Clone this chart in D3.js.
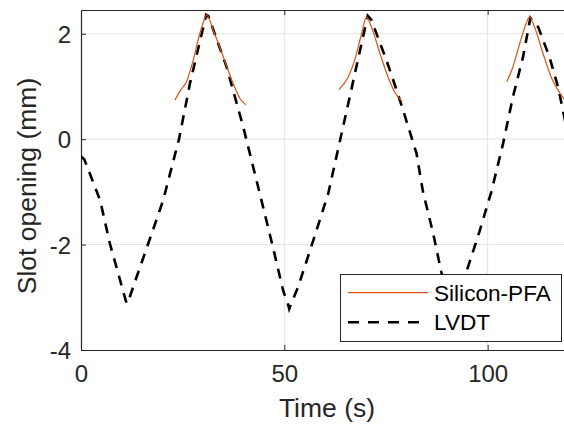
<!DOCTYPE html>
<html>
<head>
<meta charset="utf-8">
<script src="https://cdn.jsdelivr.net/npm/d3@7"></script>
<style>
  body { margin: 0; background: #fff; }
  svg { display: block; font-family: "Liberation Sans", Arial, sans-serif; }
</style>
</head>
<body id="body">
<script>
// LVDT reading (s, mm)
var lvdtTime = [0, 0.8, 4.7, 7.1, 11.0, 11.3, 11.6, 14.5, 17.4, 20.2, 24.1, 26.8, 30.8,
    31.3, 35.8, 39.9, 44.5, 47.2, 49.7, 51.0, 51.2, 51.5, 53.4, 57.0, 60.8, 65.5, 70.5,
    71.4, 75.1, 77.6, 79.2, 82.5, 84.1, 86.6, 88.6, 91.1, 91.4, 91.7, 94.6, 98.0, 100.9,
    103.8, 106.2, 108.7, 110.5, 112.4, 115.2, 117.3, 118.5, 120.5];
var lvdtValue = [-0.33, -0.38, -1.16, -1.98, -3.06, -3.12, -3.08, -2.43, -1.79, -1.16, 0.0, 1.06, 2.36,
    2.34, 1.37, 0.23, -1.2, -2.05, -2.87, -3.16, -3.22, -3.16, -2.8, -1.95, -1.03, 0.6, 2.34,
    2.26, 1.5, 0.93, 0.55, -0.27, -1.0, -1.79, -2.52, -3.25, -3.3, -3.25, -2.56, -1.75, -1.0,
    -0.08, 0.8, 1.56, 2.3, 2.13, 1.56, 0.99, 0.55, -0.2];

// Silicon-PFA sensor, three separate recordings
var pfaTime = [
    [23.1, 24.4, 26.0, 27.6, 29.2, 30.0, 30.9, 32.5, 35.0, 37.4, 39.1, 40.5],
    [63.4, 65.7, 67.3, 69.0, 70.2, 71.4, 73.5, 75.5, 77.1, 78.9],
    [104.7, 106.2, 107.9, 109.5, 110.3, 111.5, 113.6, 115.6, 117.3, 118.7, 120.5]
];
var pfaValue = [
    [0.74, 0.92, 1.1, 1.5, 2.0, 2.2, 2.36, 2.07, 1.56, 1.06, 0.77, 0.65],
    [0.94, 1.18, 1.5, 2.0, 2.32, 2.13, 1.63, 1.18, 0.9, 0.72],
    [1.09, 1.37, 1.82, 2.2, 2.32, 2.13, 1.63, 1.18, 0.93, 0.77, 0.62]
];

var xTicks = [0, 50, 100];
var yTicks = [-4, -2, 0, 2];
var legendLabels = ["Silicon-PFA", "LVDT"];

var width = 564, height = 430;
var pLeft = 81, pRight = 569, pTop = 10, pBottom = 350;

var x = d3.scaleLinear().domain([0, 120]).range([pLeft, pRight]);
var y = d3.scaleLinear().domain([-4, 2.45]).range([pBottom, pTop]);

var svg = d3.select("body").append("svg")
    .attr("width", width)
    .attr("height", height);

svg.append("defs").append("clipPath").attr("id", "plotclip")
    .append("rect")
    .attr("x", pLeft).attr("y", pTop)
    .attr("width", pRight - pLeft).attr("height", pBottom - pTop);

// grid
var grid = svg.append("g").attr("stroke", "#e3e3e3").attr("stroke-width", 1);
grid.selectAll(".gx").data(xTicks.slice(1)).enter().append("line")
    .attr("x1", d => x(d)).attr("x2", d => x(d))
    .attr("y1", pTop).attr("y2", pBottom);
grid.selectAll(".gy").data(yTicks.slice(1)).enter().append("line")
    .attr("x1", pLeft).attr("x2", pRight)
    .attr("y1", d => y(d)).attr("y2", d => y(d));

// axes (MATLAB style, ticks pointing in)
var axisColor = "#262626";
var xAxis = svg.append("g")
    .attr("transform", "translate(0," + pBottom + ")")
    .call(d3.axisBottom(x).tickValues(xTicks).tickSizeInner(-5).tickSizeOuter(0).tickPadding(14));
var xTop = svg.append("g")
    .attr("transform", "translate(0," + pTop + ")")
    .call(d3.axisTop(x).tickValues(xTicks).tickSizeInner(-5).tickSizeOuter(0).tickFormat(""));
var yAxis = svg.append("g")
    .attr("transform", "translate(" + pLeft + ",0)")
    .call(d3.axisLeft(y).tickValues(yTicks).tickSizeInner(-5).tickSizeOuter(0).tickPadding(10)
        .tickFormat(d3.format("d")));

[xAxis, xTop, yAxis].forEach(function (a) {
    a.select(".domain").attr("stroke", axisColor).attr("stroke-width", 1.2);
    a.selectAll(".tick line").attr("stroke", axisColor);
    a.selectAll("text")
        .attr("fill", axisColor)
        .style("font-size", "24px")
        .style("font-family", "'Liberation Sans', Arial, sans-serif");
});
xAxis.selectAll("text").attr("dy", "0.75em");
yAxis.selectAll("text").attr("dy", "0.36em").text(d => d < 0 ? "-" + Math.abs(d) : d);

// axis labels
svg.append("text")
    .attr("x", (pLeft + pRight) / 2 + 2).attr("y", 417)
    .attr("text-anchor", "middle")
    .attr("fill", axisColor)
    .style("font-size", "26.5px")
    .text("Time (s)");

svg.append("text")
    .attr("transform", "translate(36," + ((pTop + pBottom) / 2 + 6) + ") rotate(-90)")
    .attr("text-anchor", "middle")
    .attr("fill", axisColor)
    .style("font-size", "26.5px")
    .text("Slot opening (mm)");

// lines
var plot = svg.append("g").attr("clip-path", "url(#plotclip)");

var line = d3.line()
    .x(d => x(d[0]))
    .y(d => y(d[1]));

var lvdtPoints = lvdtTime.map((t, i) => [t, lvdtValue[i]]);
plot.append("path")
    .datum(lvdtPoints)
    .attr("d", line)
    .attr("fill", "none")
    .attr("stroke", "#000")
    .attr("stroke-width", 2.6)
    .attr("stroke-dasharray", "10,8");

var pfaLine = d3.line()
    .x(d => x(d[0]))
    .y(d => y(d[1]))
    .curve(d3.curveMonotoneX);

pfaTime.forEach(function (ts, k) {
    var pts = ts.map((t, i) => [t, pfaValue[k][i]]);
    plot.append("path")
        .datum(pts)
        .attr("d", pfaLine)
        .attr("fill", "none")
        .attr("stroke", "#D95319")
        .attr("stroke-width", 1.2);
});

// legend
var lg = svg.append("g");
lg.append("rect")
    .attr("x", 340.5).attr("y", 274.5)
    .attr("width", 221).attr("height", 67)
    .attr("fill", "#fff")
    .attr("stroke", axisColor)
    .attr("stroke-width", 1);
var rows = [292.7, 322.3];
lg.append("line")
    .attr("x1", 348).attr("x2", 428).attr("y1", rows[0]).attr("y2", rows[0])
    .attr("stroke", "#D95319").attr("stroke-width", 1.2);
lg.append("line")
    .attr("x1", 348).attr("x2", 428).attr("y1", rows[1]).attr("y2", rows[1])
    .attr("stroke", "#000").attr("stroke-width", 2.6).attr("stroke-dasharray", "11,9");
lg.selectAll(".lt").data(legendLabels).enter().append("text")
    .attr("x", 434)
    .attr("y", (d, i) => rows[i])
    .attr("dy", "0.36em")
    .attr("fill", "#000")
    .style("font-size", "22.6px")
    .text(d => d);
</script>
</body>
</html>
